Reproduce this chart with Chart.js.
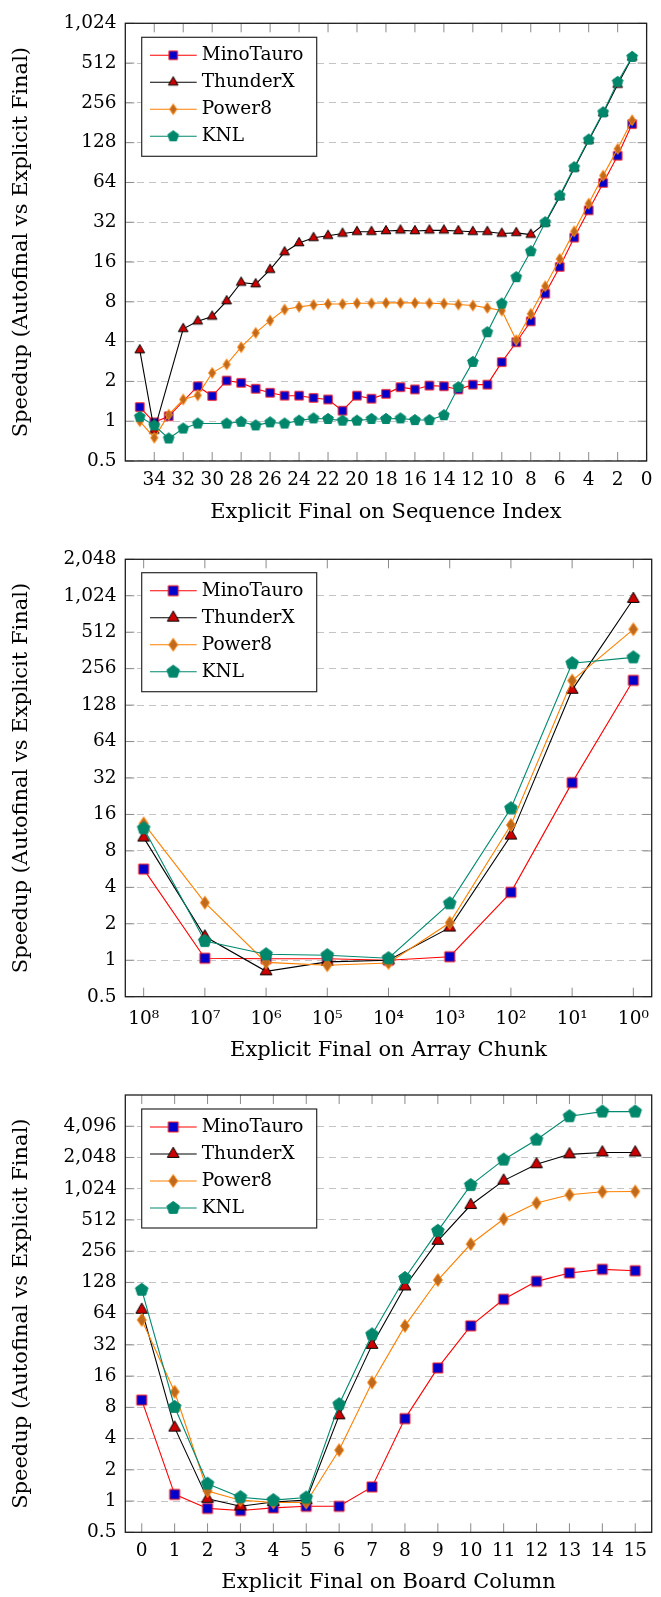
<!DOCTYPE html>
<html>
<head>
<meta charset="utf-8">
<title>Speedup (Autofinal vs Explicit Final)</title>
<script src="https://cdn.jsdelivr.net/npm/chart.js@4.4.1/dist/chart.umd.min.js"></script>
<style>
  html, body { margin:0; padding:0; background:#ffffff; }
  body { width:661px; height:1597px; position:relative; overflow:hidden; }
  canvas { position:absolute; left:0; display:block; }
</style>
</head>
<body>
<canvas id="chartSeq" width="661" height="530" style="top:0px"></canvas>
<canvas id="chartArray" width="661" height="540" style="top:530px"></canvas>
<canvas id="chartBoard" width="661" height="527" style="top:1070px"></canvas>
<script>
// ---------------- DATA ----------------
const seriesNames = ['MinoTauro', 'ThunderX', 'Power8', 'KNL'];
const yAxisTitle = 'Speedup (Autofinal vs Explicit Final)';

// Chart 1: Explicit Final on Sequence Index
const seqTitle = 'Explicit Final on Sequence Index';
const seqIndex = [35,34,33,32,31,30,29,28,27,26,25,24,23,22,21,20,19,18,17,16,15,14,13,12,11,10,9,8,7,6,5,4,3,2,1];
const seqMinoTauro = [1.28,0.98,1.09,null,1.84,1.55,2.03,1.95,1.76,1.64,1.56,1.56,1.50,1.46,1.20,1.56,1.48,1.61,1.81,1.74,1.86,1.84,1.74,1.89,1.89,2.80,3.96,5.70,9.24,14.7,24.5,39.4,63.5,102,177];
const seqThunderX = [3.45,0.85,null,5.0,5.7,6.2,8.1,11.2,10.9,14.0,19.0,22.3,24.4,25.3,26.3,27.1,27.1,27.5,27.8,27.5,27.8,27.8,27.5,27.1,27.1,26.3,26.6,25.8,31.5,50,82,133,214,352,565];
const seqPower8 = [1.0,0.75,1.12,1.46,1.57,2.32,2.69,3.63,4.66,5.77,7.0,7.33,7.58,7.71,7.71,7.8,7.8,7.85,7.85,7.85,7.8,7.76,7.63,7.5,7.2,6.87,4.1,6.49,10.5,16.9,27.3,44.3,72.1,115,189];
const seqKNL = [1.08,0.93,0.74,0.88,0.96,null,0.96,0.99,0.93,0.98,0.96,1.01,1.05,1.04,1.01,1.01,1.04,1.04,1.05,1.02,1.02,1.11,1.81,2.81,4.71,7.76,12.3,19.3,32,50.9,83.4,135,217,369,570];
const seqXTicks = [34,32,30,28,26,24,22,20,18,16,14,12,10,8,6,4,2,0];
const seqXTickLabels = ['34','32','30','28','26','24','22','20','18','16','14','12','10','8','6','4','2','0'];
const seqYTicks = [0.5,1,2,4,8,16,32,64,128,256,512,1024];
const seqYTickLabels = ['0.5','1','2','4','8','16','32','64','128','256','512','1,024'];

// Chart 2: Explicit Final on Array Chunk
const chunkTitle = 'Explicit Final on Array Chunk';
const chunkPos = [0,1,2,3,4,5,6,7,8];
const chunkLabels = ['10\u2078','10\u2077','10\u2076','10\u2075','10\u2074','10\u00B3','10\u00B2','10\u00B9','10\u2070'];
const chunkMinoTauro = [5.66,1.04,1.03,1.03,1.0,1.07,3.64,29.3,205];
const chunkThunderX = [10.3,1.57,0.81,0.97,1.0,1.86,10.7,171,963];
const chunkPower8 = [13.5,2.99,0.96,0.91,0.95,2.04,13.1,204,541];
const chunkKNL = [12.3,1.44,1.12,1.10,1.04,2.95,18.0,284,317];
const chunkYTicks = [0.5,1,2,4,8,16,32,64,128,256,512,1024,2048];
const chunkYTickLabels = ['0.5','1','2','4','8','16','32','64','128','256','512','1,024','2,048'];

// Chart 3: Explicit Final on Board Column
const boardTitle = 'Explicit Final on Board Column';
const boardColumn = [0,1,2,3,4,5,6,7,8,9,10,11,12,13,14,15];
const boardLabels = ['0','1','2','3','4','5','6','7','8','9','10','11','12','13','14','15'];
const boardMinoTauro = [9.4,1.16,0.85,0.81,0.86,0.89,0.89,1.37,6.23,19.2,48.8,88,131,158,171,166];
const boardThunderX = [69.6,5.1,1.05,0.89,0.98,1.02,6.7,32,117,322,713,1225,1760,2195,2290,2290];
const boardPower8 = [55.7,11.3,1.25,1.02,0.97,0.97,3.1,13.9,48.8,135,300,522,745,896,957,963];
const boardKNL = [108.5,8.07,1.47,1.09,1.02,1.08,8.57,40.3,141,402,1110,1950,3040,5110,5670,5670];
const boardYTicks = [0.5,1,2,4,8,16,32,64,128,256,512,1024,2048,4096];
const boardYTickLabels = ['0.5','1','2','4','8','16','32','64','128','256','512','1,024','2,048','4,096'];

// ---------------- STYLE ----------------
const FONT = "'DejaVu Serif', serif";
Chart.defaults.font.family = FONT;
const seriesStyle = [
  { line: '#ff0000', shape: 'square',   fill: '#0000cc', stroke: '#ff2020' },
  { line: '#000000', shape: 'triangle', fill: '#cc0000', stroke: '#000000' },
  { line: '#ff8000', shape: 'diamond',  fill: '#bf6a1c', stroke: '#ff8a1a' },
  { line: '#00896f', shape: 'pentagon', fill: '#00876b', stroke: '#00876b' }
];

function markerCanvas(shape, sz, fill, stroke) {
  const dim = 20;
  const c = document.createElement('canvas');
  c.width = dim; c.height = dim;
  const g = c.getContext('2d');
  const cx = dim / 2, cy = dim / 2;
  g.beginPath();
  if (shape === 'square') {
    g.rect(cx - sz.sq / 2, cy - sz.sq / 2, sz.sq, sz.sq);
  } else if (shape === 'triangle') {
    const r = sz.tri;
    g.moveTo(cx, cy - r);
    g.lineTo(cx + r * Math.sin(Math.PI / 3), cy + r / 2);
    g.lineTo(cx - r * Math.sin(Math.PI / 3), cy + r / 2);
  } else if (shape === 'diamond') {
    g.moveTo(cx, cy - sz.diaH);
    g.lineTo(cx + sz.diaW, cy);
    g.lineTo(cx, cy + sz.diaH);
    g.lineTo(cx - sz.diaW, cy);
  } else if (shape === 'pentagon') {
    for (let k = 0; k < 5; k++) {
      const a = -Math.PI / 2 + k * 2 * Math.PI / 5;
      const px = cx + sz.pent * Math.cos(a), py = cy + sz.pent * Math.sin(a);
      if (k === 0) g.moveTo(px, py); else g.lineTo(px, py);
    }
  }
  g.closePath();
  g.fillStyle = fill;
  g.fill();
  g.lineWidth = 1;
  g.strokeStyle = stroke;
  g.stroke();
  return c;
}

function makeChart(id, spec) {
  const canvas = document.getElementById(id);
  const H = canvas.height;
  const markers = seriesStyle.map(st => markerCanvas(st.shape, spec.sizes, st.fill, st.stroke));
  const datasets = spec.series.map((vals, i) => ({
    label: seriesNames[i],
    data: spec.xs.map((x, j) => ({ x: x, y: vals[j] })),
    borderColor: seriesStyle[i].line,
    backgroundColor: seriesStyle[i].fill,
    borderWidth: 1.1,
    pointStyle: markers[i],
    pointRadius: 6,
    pointHoverRadius: 6,
    tension: 0,
    spanGaps: true,
    clip: false,
    order: 3 - i
  }));

  const decor = {
    id: 'decor',
    afterDatasetsDraw(chart) {
      const { ctx, chartArea: a, scales: { x, y } } = chart;
      const TL = 9;
      ctx.save();
      ctx.strokeStyle = '#8a8a8a';
      ctx.lineWidth = 1;
      ctx.setLineDash([]);
      ctx.beginPath();
      x.ticks.forEach(t => {
        const px = x.getPixelForValue(t.value);
        ctx.moveTo(px, a.bottom); ctx.lineTo(px, a.bottom - TL);
        ctx.moveTo(px, a.top); ctx.lineTo(px, a.top + TL);
      });
      y.ticks.forEach(t => {
        const py = y.getPixelForValue(t.value);
        ctx.moveTo(a.left, py); ctx.lineTo(a.left + TL, py);
        ctx.moveTo(a.right, py); ctx.lineTo(a.right - TL, py);
      });
      ctx.stroke();
      ctx.strokeStyle = '#1e1e1e';
      ctx.lineWidth = 1.3;
      ctx.strokeRect(a.left, a.top, a.right - a.left, a.bottom - a.top);

      // legend
      const bx = a.left + 16.4, by = a.top + spec.legendTop, bw = 175, bh = 119;
      ctx.fillStyle = '#ffffff';
      ctx.fillRect(bx, by, bw, bh);
      ctx.strokeStyle = '#2a2a2a';
      ctx.lineWidth = 1.2;
      ctx.strokeRect(bx, by, bw, bh);
      ctx.font = '18.5px ' + FONT;
      ctx.textBaseline = 'middle';
      ctx.textAlign = 'left';
      seriesNames.forEach((name, i) => {
        const ry = by + 18 + 27 * i;
        ctx.strokeStyle = seriesStyle[i].line;
        ctx.lineWidth = 1.1;
        ctx.beginPath();
        ctx.moveTo(bx + 8.3, ry); ctx.lineTo(bx + 55, ry);
        ctx.stroke();
        const m = markers[i];
        ctx.drawImage(m, bx + 31.5 - m.width / 2, ry - m.height / 2);
        ctx.fillStyle = '#000000';
        ctx.fillText(name, bx + 60, ry);
      });
      ctx.restore();
    }
  };

  return new Chart(canvas, {
    type: 'line',
    data: { datasets },
    options: {
      responsive: false,
      animation: false,
      events: [],
      devicePixelRatio: 1,
      layout: { padding: { left: 0, right: 9.3, top: spec.areaTop, bottom: 0 } },
      plugins: { legend: { display: false }, tooltip: { enabled: false } },
      scales: {
        x: {
          type: 'linear',
          min: spec.xMin, max: spec.xMax, reverse: !!spec.reverse,
          afterBuildTicks: s => { s.ticks = spec.xTicks.map(v => ({ value: v })); },
          afterFit: s => { s.height = H - spec.areaBottom; },
          ticks: {
            autoSkip: false, maxRotation: 0, minRotation: 0,
            padding: spec.xTickPad, color: '#000000',
            font: { family: FONT, size: 18.5 },
            callback: v => spec.xTickLabels[spec.xTicks.indexOf(v)]
          },
          grid: { display: false, drawTicks: false },
          border: { display: false },
          title: {
            display: true, text: spec.xTitle, color: '#000000',
            font: { family: FONT, size: 21 },
            padding: { top: 0, bottom: spec.xTitlePad }
          }
        },
        y: {
          type: 'logarithmic',
          min: spec.yMin, max: spec.yMax,
          afterBuildTicks: s => { s.ticks = spec.yTicks.map(v => ({ value: v })); },
          afterFit: s => { s.width = 125.3; },
          ticks: {
            autoSkip: false, padding: 8.8, color: '#000000',
            font: { family: FONT, size: 18.5 },
            callback: v => spec.yTickLabels[spec.yTicks.indexOf(v)]
          },
          grid: { color: '#c4c4c4', lineWidth: 1.1, drawTicks: false },
          border: { display: false, dash: [7, 5] },
          title: {
            display: true, text: yAxisTitle, color: '#000000',
            font: { family: FONT, size: 21 },
            padding: { top: 9.4, bottom: 0 }
          }
        }
      }
    },
    plugins: [decor]
  });
}

const smallMarks = { sq: 8.5, tri: 5.6, diaW: 3.6, diaH: 5.4, pent: 5.6 };
const bigMarks = { sq: 10, tri: 6.8, diaW: 4.5, diaH: 6.5, pent: 6.6 };

makeChart('chartSeq', {
  xs: seqIndex,
  series: [seqMinoTauro, seqThunderX, seqPower8, seqKNL],
  xMin: 0, xMax: 36, reverse: true,
  xTicks: seqXTicks, xTickLabels: seqXTickLabels,
  yMin: 0.5, yMax: 1024, yTicks: seqYTicks, yTickLabels: seqYTickLabels,
  xTitle: seqTitle,
  areaTop: 23.3, areaBottom: 461,
  xTickPad: 8.5, xTitlePad: 4.4,
  legendTop: 14,
  sizes: smallMarks
});

makeChart('chartArray', {
  xs: chunkPos,
  series: [chunkMinoTauro, chunkThunderX, chunkPower8, chunkKNL],
  xMin: -0.3, xMax: 8.3, reverse: false,
  xTicks: chunkPos, xTickLabels: chunkLabels,
  yMin: 0.5, yMax: 2048, yTicks: chunkYTicks, yTickLabels: chunkYTickLabels,
  xTitle: chunkTitle,
  areaTop: 29.3, areaBottom: 466.7,
  xTickPad: 11.7, xTitlePad: 6.6,
  legendTop: 13.4,
  sizes: bigMarks
});

makeChart('chartBoard', {
  xs: boardColumn,
  series: [boardMinoTauro, boardThunderX, boardPower8, boardKNL],
  xMin: -0.5, xMax: 15.5, reverse: false,
  xTicks: boardColumn, xTickLabels: boardLabels,
  yMin: 0.5, yMax: 8192, yTicks: boardYTicks, yTickLabels: boardYTickLabels,
  xTitle: boardTitle,
  areaTop: 25, areaBottom: 462.3,
  xTickPad: 7.4, xTitlePad: 1.9,
  legendTop: 14,
  sizes: bigMarks
});
</script>
</body>
</html>
